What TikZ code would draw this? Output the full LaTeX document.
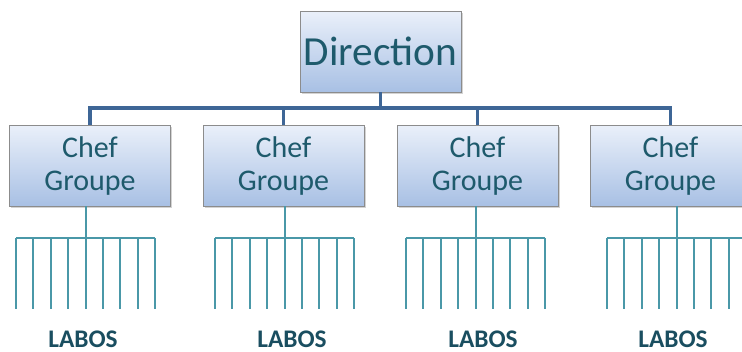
\documentclass[tikz,border=0pt]{standalone}
\usepackage{fontspec}
\setmainfont{Carlito}
\usetikzlibrary{shadows}
\definecolor{txt}{RGB}{30,90,108}
\definecolor{labtxt}{RGB}{26,78,96}
\definecolor{topline}{RGB}{62,102,150}
\definecolor{combline}{RGB}{74,152,168}
\definecolor{boxtop}{RGB}{234,240,250}
\definecolor{boxbot}{RGB}{168,192,228}
\definecolor{boxedge}{RGB}{140,140,140}
\tikzset{
  box/.style={draw=boxedge, line width=0.6pt, top color=boxtop, bottom color=boxbot,
    minimum width=120.75pt, minimum height=60.75pt, inner sep=0pt, align=center,
    text=txt, drop shadow={shadow xshift=1.2pt, shadow yshift=-1.2pt, opacity=0.35}},
  dirbox/.style={box, font=\fontsize{31}{34}\selectfont},
  chefbox/.style={box, font=\fontsize{22.5}{24.75}\selectfont},
  topconn/.style={draw=topline, line width=2.3pt},
  comb/.style={draw=combline, line width=1.5pt},
  labos/.style={text=labtxt, font=\fontsize{19}{20}\selectfont\bfseries, inner sep=0pt}
}
\begin{document}
\begin{tikzpicture}[x=0.75pt, y=-0.75pt]
\useasboundingbox (0,0) rectangle (742,351);
% Direction
\node[dirbox] (dir) at (380.5,51.5) {Direction};
% Chef boxes
\node[chefbox] (c1) at (90,165.5) {Chef\\Groupe};
\node[chefbox] (c2) at (283.5,165.5) {Chef\\Groupe};
\node[chefbox] (c3) at (477.5,165.5) {Chef\\Groupe};
\node[chefbox] (c4) at (670.5,165.5) {Chef\\Groupe};
% top connectors
\coordinate (hub) at (380.5,108);
\draw[topconn] (dir.south) -- (hub);
\draw[topconn] (c1.north) |- (hub);
\draw[topconn] (c4.north) |- (hub);
\draw[topconn] (c2.north) -- (c2.north |- hub);
\draw[topconn] (c3.north) -- (c3.north |- hub);
% combs
\foreach \n/\x in {1/16,2/215,3/406,4/607}{
  \coordinate (k\n) at (\x+69.5,238);
  \coordinate (kl\n) at (\x,238);
  \coordinate (kr\n) at (\x+139,238);
}
\draw[comb] (c1.south -| k1) -- (k1);
\draw[comb] (c2.south -| k2) -- (k2);
\draw[comb] (c3.south -| k3) -- (k3);
\draw[comb] (c4.south -| k4) -- (k4);
\foreach \n/\x in {1/16,2/215,3/406,4/607}{
  \draw[comb] (kl\n) -- (kr\n);
  \foreach \i in {0,...,8}{
    \draw[comb] (\x+\i*17.375,238) -- (\x+\i*17.375,309);
  }
}
% labels
\node[labos] (l1) at (83,339) {LABOS};
\node[labos] (l2) at (292,339) {LABOS};
\node[labos] (l3) at (483,339) {LABOS};
\node[labos] (l4) at (673,339) {LABOS};
\end{tikzpicture}
\end{document}
